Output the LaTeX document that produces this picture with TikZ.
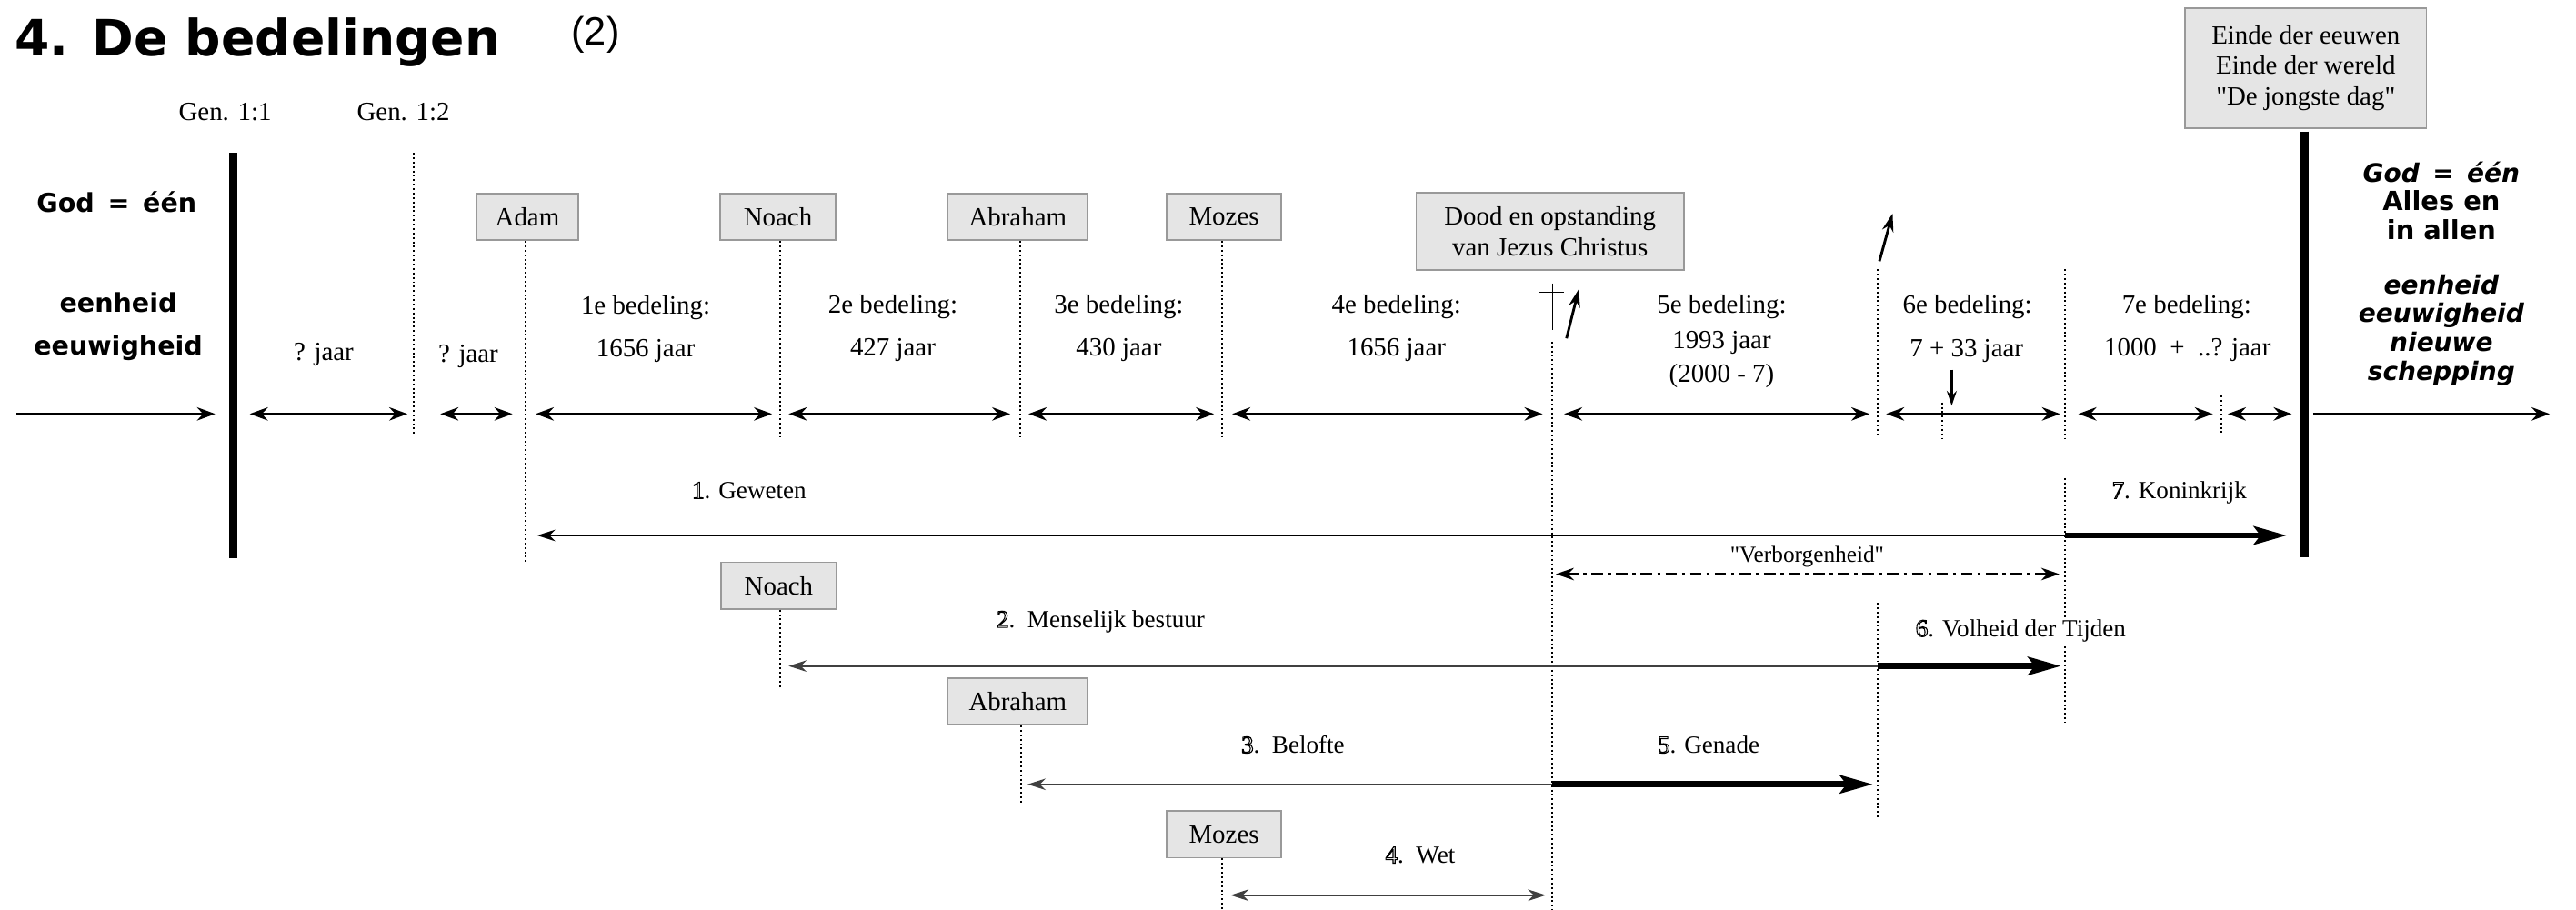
\documentclass[tikz,border=0pt]{standalone}
\usepackage{fontspec}
\setmainfont{Liberation Serif}[Ligatures=TeXOff]
\newfontfamily\comicf{DejaVu Sans}
\newfontfamily\arialf{Liberation Sans}
\usetikzlibrary{arrows.meta}
\newcommand\olnum[1]{\special{pdf:literal direct 1 Tr 0.6 w}#1\special{pdf:literal direct 0 Tr}}
\begin{document}
\begin{tikzpicture}[x=1pt,y=-1pt,
  lbl/.style={font=\fontsize{16}{19}\selectfont, inner sep=0pt, text height=11pt, text depth=4pt},
  low/.style={font=\fontsize{15}{18}\selectfont, inner sep=0pt, text height=10.5pt, text depth=3.5pt},
  namebox/.style={draw=black!40, fill=black!10, line width=0.9, inner sep=0pt, minimum height=28.5, font=\fontsize{16}{19}\selectfont, align=center},
  comicbig/.style={font=\comicf\bfseries\fontsize{15.8}{26}\selectfont, align=center, inner sep=0pt},
  comicR/.style={font=\comicf\bfseries\itshape\fontsize{15.5}{17.5}\selectfont, align=center, inner sep=0pt},
  comicRu/.style={font=\comicf\bfseries\fontsize{16}{17.5}\selectfont, align=center, inner sep=0pt},
  dotl/.style={line width=1.1, dash pattern=on 1.1 off 1.6},
  thickv/.style={line width=5},
  tl/.style={line width=1.8, {Stealth[length=11,width=8]}-{Stealth[length=11,width=8]}},
  tlr/.style={line width=1.8, -{Stealth[length=11,width=8]}},
  thinarr/.style={line width=1, -{Stealth[length=11,width=7]}},
  thickarr/.style={line width=3.8, -{Stealth[length=20,width=11,inset=4]}},
  smallarr/.style={line width=1.6, -{Stealth[length=11,width=7]}}
]
\useasboundingbox (0,0) rectangle (1568,554);

% ---------- title ----------
\node[anchor=base west, inner sep=0pt, font=\comicf\bfseries\fontsize{30.5}{36}\selectfont] (title) at (9,34) {4. De bedelingen};
\node[inner sep=0pt, font=\arialf\fontsize{24}{28}\selectfont] (two) at (362.5,21) {(2)};

% ---------- Genesis labels ----------
\node[lbl] (gen1) at (137,70) {Gen. 1:1};
\node[lbl] (gen2) at (245.5,70) {Gen. 1:2};

% ---------- left / right texts ----------
\node[comicbig] (godL) at (71,123) {God\,\ =\ \,één};
\node[comicbig] (eenL) at (72,199) {eenheid\\eeuwigheid};
\node[comicR] (godR) at (1486,105) {God\,\ =\ \,één};
\node[comicRu] (allesR) at (1486,131) {Alles en\\in allen};
\node[comicR] (eenR) at (1486,201) {eenheid\\eeuwigheid\\nieuwe\\schepping};

% ---------- boxes ----------
\node[namebox, minimum width=62] (adam) at (321,132) {Adam};
\node[namebox, minimum width=70] (noach) at (473.5,132) {Noach};
\node[namebox, minimum width=85] (abraham) at (619.5,132) {Abraham};
\node[namebox, minimum width=70] (mozes) at (745,132) {Mozes};
\node[namebox, minimum width=163, minimum height=47] (dood) at (943.5,141) {Dood en opstanding\\van Jezus Christus};
\node[namebox, minimum width=147, minimum height=73, font=\fontsize{16}{18.5}\selectfont] (einde) at (1403.5,41.5) {Einde der eeuwen\\Einde der wereld\\"De jongste dag"};
\node[namebox, minimum width=70] (noachB) at (474,356.5) {Noach};
\node[namebox, minimum width=85] (abrahamB) at (619.5,427) {Abraham};
\node[namebox, minimum width=70] (mozesB) at (745,508) {Mozes};

% ---------- coordinates ----------
\coordinate (lvT) at (142,93);   \coordinate (lvB) at (142,340);
\coordinate (rvT) at (1403,80);  \coordinate (rvB) at (1403,339);
\coordinate (g2T) at (252,93);   \coordinate (g2B) at (252,265);
\coordinate (adamE) at (320,343);
\coordinate (noachE) at (475,266);
\coordinate (abrahamE) at (621,266);
\coordinate (mozesE) at (744,266);
\coordinate (chT) at (945,208);  \coordinate (chB) at (945,554);
\coordinate (fT) at (1143,164);  \coordinate (fB) at (1143,266);
\coordinate (fT2) at (1143,367); \coordinate (fB2) at (1143,498);
\coordinate (sT) at (1257,164);  \coordinate (sB) at (1257,267);
\coordinate (sT2) at (1257,291); \coordinate (sB2) at (1257,440);
\coordinate (mT) at (1182,245);  \coordinate (mB) at (1182,267);
\coordinate (kT) at (1352,241);  \coordinate (kB) at (1352,265);
\coordinate (noachBE) at (475,419);
\coordinate (abrahamBE) at (621.5,489);
\coordinate (mozesBE) at (744,554);

% ---------- vertical lines ----------
\draw[thickv] (lvT) -- (lvB);
\draw[thickv] (rvT) -- (rvB);
\draw[dotl] (g2T) -- (g2B);
\draw[dotl] (adam.south) ++(-1,0) -- (adamE);
\draw[dotl] (noach.south) ++(1.5,0) -- (noachE);
\draw[dotl] (abraham.south) ++(1.5,0) -- (abrahamE);
\draw[dotl] (mozes.south) ++(-1,0) -- (mozesE);
\draw[dotl] (chT) -- (chB);
\draw[dotl] (fT) -- (fB);
\draw[dotl] (fT2) -- (fB2);
\draw[dotl] (sT) -- (sB);
\draw[dotl] (sT2) -- (sB2);
\draw[dotl] (mT) -- (mB);
\draw[dotl] (kT) -- (kB);
\draw[dotl] (noachB.south) ++(1,0) -- (noachBE);
\draw[dotl] (abrahamB.south) ++(2,0) -- (abrahamBE);
\draw[dotl] (mozesB.south) ++(-1,0) -- (mozesBE);

% ---------- cross and small arrows ----------
\coordinate (crT) at (945,172.5); \coordinate (crB) at (945,201);
\coordinate (crL) at (937,178);   \coordinate (crR) at (952,178);
\draw[line width=0.9] (crT) -- (crB);
\draw[line width=0.9] (crL) -- (crR);
\coordinate (ra1) at (953.5,206); \coordinate (ra2) at (961,176);
\draw[smallarr] (ra1) -- (ra2);
\coordinate (rb1) at (1144,159);  \coordinate (rb2) at (1152,130);
\draw[smallarr] (rb1) -- (rb2);
\coordinate (dn1) at (1188,225);  \coordinate (dn2) at (1188,247);
\draw[line width=1.4, -{Stealth[length=9,width=6]}] (dn1) -- (dn2);

% ---------- timeline ----------
\coordinate (t0a) at (10,252);    \coordinate (t0b) at (131,252);
\coordinate (t1a) at (152,252);   \coordinate (t1b) at (248,252);
\coordinate (t2a) at (268,252);   \coordinate (t2b) at (312,252);
\coordinate (t3a) at (326,252);   \coordinate (t3b) at (470,252);
\coordinate (t4a) at (480,252);   \coordinate (t4b) at (615,252);
\coordinate (t5a) at (626,252);   \coordinate (t5b) at (739,252);
\coordinate (t6a) at (750,252);   \coordinate (t6b) at (939,252);
\coordinate (t7a) at (952,252);   \coordinate (t7b) at (1138,252);
\coordinate (t8a) at (1148,252);  \coordinate (t8b) at (1254,252);
\coordinate (t9a) at (1265,252);  \coordinate (t9b) at (1347,252);
\coordinate (t10a) at (1356,252); \coordinate (t10b) at (1395,252);
\coordinate (t11a) at (1408,252); \coordinate (t11b) at (1552,252);
\draw[tlr] (t0a) -- (t0b);
\draw[tl] (t1a) -- (t1b);
\draw[tl] (t2a) -- (t2b);
\draw[tl] (t3a) -- (t3b);
\draw[tl] (t4a) -- (t4b);
\draw[tl] (t5a) -- (t5b);
\draw[tl] (t6a) -- (t6b);
\draw[tl] (t7a) -- (t7b);
\draw[tl] (t8a) -- (t8b);
\draw[tl] (t9a) -- (t9b);
\draw[tl] (t10a) -- (t10b);
\draw[tlr] (t11a) -- (t11b);

% ---------- timeline labels ----------
\node[lbl] (q1) at (197,216) {? jaar};
\node[lbl] (q2) at (285,217) {? jaar};
\node[lbl] (b1) at (393,188) {1e bedeling:};
\node[lbl] (y1) at (393,214) {1656 jaar};
\node[lbl] (b2) at (543.5,187) {2e bedeling:};
\node[lbl] (y2) at (543.5,213) {427 jaar};
\node[lbl] (b3) at (681,187) {3e bedeling:};
\node[lbl] (y3) at (681,213) {430 jaar};
\node[lbl] (b4) at (850,187) {4e bedeling:};
\node[lbl] (y4) at (850,213) {1656 jaar};
\node[lbl] (b5) at (1048,187) {5e bedeling:};
\node[lbl] (y5) at (1048,208.5) {1993 jaar};
\node[lbl] (z5) at (1048,229) {(2000 - 7)};
\node[lbl] (b6) at (1197.5,187) {6e bedeling:};
\node[lbl] (y6) at (1197,214) {7 + 33 jaar};
\node[lbl] (b7) at (1331,187) {7e bedeling:};
\node[lbl] (y7) at (1331.5,213) {1000\ \ +\ \ ..? jaar};

% ---------- dispensation arrows ----------
\coordinate (g0) at (327,326);   \coordinate (g1) at (1257,326);  \coordinate (g2) at (1392,326);
\draw[thinarr] (g1) -- (g0);
\draw[thickarr] (g1) -- (g2);
\coordinate (m0) at (480,405.5); \coordinate (m1) at (1143,405.5); \coordinate (m2) at (1254.5,405.5);
\draw[thinarr, draw=black!75] (m1) -- (m0);
\draw[thickarr] (m1) -- (m2);
\coordinate (p0) at (625.5,477.5); \coordinate (p1) at (945,477.5); \coordinate (p2) at (1140,477.5);
\draw[thinarr, draw=black!75] (p1) -- (p0);
\draw[thickarr] (p1) -- (p2);
\coordinate (w0) at (749,545); \coordinate (w1) at (941,545);
\draw[line width=1, draw=black!75, {Stealth[length=11,width=7]}-{Stealth[length=11,width=7]}] (w0) -- (w1);
\coordinate (v0) at (947,349.5); \coordinate (v1) at (1253.5,349.5);
\draw[line width=1.6, dash pattern=on 7 off 3 on 2 off 3, {Stealth[length=11,width=7.5]}-{Stealth[length=11,width=7.5]}] (v0) -- (v1);

% ---------- dispensation labels ----------
\node[low] (l1) at (456,300) {\olnum{1}. Geweten};
\node[low] (l2) at (670,378.5) {\olnum{2}.\ \ Menselijk bestuur};
\node[low] (l3) at (787,455) {\olnum{3}.\ \ Belofte};
\node[low] (l4) at (864.5,522) {\olnum{4}.\ \ Wet};
\node[low] (l5) at (1040,455) {\olnum{5}. Genade};
\node[low, fill=white, inner ysep=1pt] (l6) at (1230,384) {\olnum{6}. Volheid der Tijden};
\node[low] (l7) at (1326.5,300) {\olnum{7}. Koninkrijk};
\node[low, font=\fontsize{14}{17}\selectfont] (vb) at (1100,339) {"Verborgenheid"};
\end{tikzpicture}
\end{document}
